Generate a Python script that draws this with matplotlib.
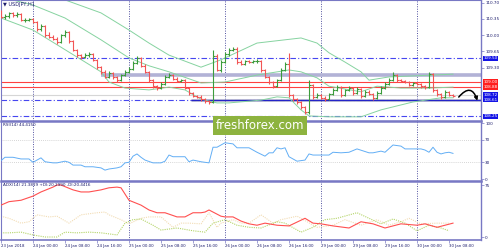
import matplotlib
matplotlib.use('Agg')
import matplotlib.pyplot as plt
from matplotlib.patches import Rectangle

# USDJPY H1 bars (23 Jan 16:00 .. 30 Jan 09:00)
first_open = 110.50
closes = [110.39, 110.41, 110.48, 110.43, 110.46, 110.33, 110.33, 110.35, 110.28, 110.13,
          110.20, 110.00, 109.96, 109.92, 109.85, 110.00, 110.07, 109.87, 109.68, 109.57,
          109.53, 109.57, 109.59, 109.47, 109.31, 109.21, 109.10, 109.19, 109.10, 109.03,
          109.14, 109.21, 109.27, 109.40, 109.51, 109.34, 109.21, 109.03, 108.90, 108.86,
          108.95, 109.10, 109.14, 109.06, 109.01, 109.03, 108.86, 108.75, 108.69, 108.67,
          108.62, 108.58, 108.56, 109.55, 109.25, 109.42, 109.59, 109.68, 109.70, 109.42,
          109.38, 109.44, 109.42, 109.44, 109.44, 109.25, 109.10, 108.99, 108.90, 109.03,
          109.25, 109.38, 108.71, 108.62, 108.56, 108.45, 108.34, 108.93, 108.67, 108.71,
          108.65, 108.62, 108.73, 108.82, 108.88, 108.71, 108.82, 108.86, 108.75, 108.84,
          108.69, 108.78, 108.73, 108.65, 108.75, 108.86, 108.95, 109.03, 109.14, 109.03,
          109.01, 108.99, 108.93, 108.97, 108.95, 108.90, 108.88, 109.16, 108.82, 108.73,
          108.67, 108.78, 108.71, 108.69]
highs = [110.54, 110.45, 110.51, 110.50, 110.49, 110.47, 110.36, 110.37, 110.36, 110.30,
         110.23, 110.21, 110.06, 110.00, 109.95, 110.03, 110.11, 110.09, 109.89, 109.71,
         109.60, 109.61, 109.63, 109.61, 109.49, 109.33, 109.24, 109.22, 109.21, 109.13,
         109.17, 109.24, 109.31, 109.44, 109.56, 109.53, 109.37, 109.23, 109.05, 108.93,
         108.98, 109.14, 109.19, 109.16, 109.09, 109.06, 109.05, 108.88, 108.78, 108.72,
         108.70, 108.65, 108.61, 109.68, 109.60, 109.47, 109.64, 109.72, 109.75, 109.74,
         109.47, 109.47, 109.47, 109.47, 109.48, 109.46, 109.27, 109.12, 109.01, 109.06,
         109.29, 109.42, 109.62, 108.74, 108.65, 108.58, 108.48, 109.03, 108.95, 108.75,
         108.74, 108.68, 108.76, 108.86, 108.92, 108.90, 108.85, 108.90, 108.89, 108.88,
         108.86, 108.82, 108.81, 108.76, 108.79, 108.90, 108.99, 109.08, 109.21, 109.16,
         109.06, 109.04, 109.01, 109.00, 108.99, 108.97, 108.93, 109.21, 109.18, 108.84,
         108.76, 108.81, 108.80, 108.74]
lows = [110.36, 110.35, 110.38, 110.40, 110.40, 110.30, 110.29, 110.31, 110.26, 110.10,
        110.08, 109.97, 109.93, 109.89, 109.82, 109.83, 109.97, 109.84, 109.65, 109.54,
        109.49, 109.50, 109.53, 109.44, 109.28, 109.17, 109.07, 109.07, 109.06, 108.99,
        109.01, 109.11, 109.18, 109.25, 109.37, 109.31, 109.18, 108.99, 108.86, 108.82,
        108.84, 108.93, 109.07, 109.03, 108.98, 108.98, 108.83, 108.71, 108.66, 108.64,
        108.59, 108.54, 108.52, 108.54, 109.22, 109.20, 109.40, 109.56, 109.66, 109.38,
        109.35, 109.36, 109.39, 109.40, 109.41, 109.21, 109.07, 108.95, 108.87, 108.88,
        109.01, 109.22, 108.66, 108.58, 108.51, 108.40, 108.30, 108.31, 108.63, 108.64,
        108.62, 108.59, 108.60, 108.71, 108.79, 108.66, 108.69, 108.80, 108.72, 108.73,
        108.64, 108.66, 108.70, 108.60, 108.62, 108.73, 108.84, 108.93, 109.01, 109.00,
        108.98, 108.96, 108.90, 108.91, 108.92, 108.87, 108.85, 108.86, 108.78, 108.69,
        108.63, 108.64, 108.68, 108.66]
opens = [first_open] + closes[:-1]

# Bollinger bands (bar index, price)
bb_up_bar = [10, 16, 25, 32, 37, 42, 50, 55, 64, 75, 79, 82, 86, 90, 92, 97, 108, 113]
bb_up = [110.95, 110.76, 110.48, 110.11, 109.83, 109.57, 109.31, 109.47, 109.83, 109.94,
         109.83, 109.62, 109.42, 109.21, 109.03, 109.10, 109.14, 109.16]
bb_mid_bar = [0, 8, 16, 25, 32, 37, 42, 50, 56, 64, 72, 75, 79, 82, 90, 94, 100, 107, 113]
bb_mid = [110.82, 110.65, 110.37, 109.90, 109.51, 109.34, 109.21, 108.97, 108.99, 109.14,
          109.25, 109.21, 109.08, 108.90, 108.78, 108.90, 108.86, 108.86, 108.88]
bb_lo_bar = [0, 8, 12, 25, 27, 31, 37, 42, 46, 50, 54, 57, 65, 69, 72, 75, 77, 82, 90, 95,
             103, 110, 113]
bb_lo = [110.37, 110.11, 109.90, 109.21, 108.99, 108.86, 108.82, 108.88, 108.82, 108.62,
         108.54, 108.54, 108.60, 108.67, 108.65, 108.39, 108.26, 108.24, 108.24, 108.39,
         108.56, 108.65, 108.65]

# RSI(14)
rsi_bar = [0, 1, 3, 5, 7, 8, 10, 11, 13, 14, 16, 17, 18, 20, 21, 23, 25, 26, 27, 29, 30, 31,
           32, 33, 34, 35, 36, 38, 40, 41, 42, 43, 45, 46, 47, 48, 50, 52, 53, 54, 55, 56, 58,
           59, 62, 64, 66, 67, 68, 69, 70, 71, 72, 74, 76, 77, 78, 82, 83, 85, 87, 89, 92, 93,
           95, 96, 98, 100, 101, 104, 105, 106, 107, 108, 109, 110, 111, 112, 113]
rsi = [33, 39, 39, 36, 36, 30, 38, 31, 29, 29, 32, 30, 25, 25, 22, 22, 20, 16, 18, 20, 22, 29,
       30, 41, 45, 39, 34, 29, 29, 32, 43, 40, 40, 40, 31, 34, 31, 29, 57, 57, 61, 65, 63,
       56, 56, 48, 41, 47, 47, 56, 54, 56, 40, 32, 34, 45, 43, 43, 48, 47, 48, 54, 47, 47,
       50, 48, 61, 59, 54, 54, 54, 52, 48, 57, 48, 45, 47, 48, 46]

# ADX(14), +DI, -DI
adx_bar = [0, 2, 5, 8, 10, 13, 14, 15, 18, 20, 22, 25, 27, 29, 30, 32, 35, 37, 39, 41, 44, 46,
           48, 50, 51, 52, 55, 56, 58, 60, 62, 64, 66, 69, 72, 76, 78, 80, 83, 87, 90, 93, 96,
           100, 104, 106, 109, 113]
adx = [46, 51, 53, 59, 65, 72, 75, 75, 68, 65, 65, 68, 71, 72, 71, 53, 46, 39, 35, 35, 29, 29,
       35, 35, 36, 39, 30, 29, 29, 23, 19, 17, 20, 17, 16, 27, 20, 19, 16, 13, 22, 19, 13,
       19, 17, 19, 14, 20]
pdi_bar = [0, 2, 5, 8, 11, 14, 16, 19, 22, 25, 29, 31, 33, 35, 38, 40, 44, 48, 51, 53, 56, 59,
           62, 65, 69, 71, 75, 78, 81, 84, 89, 92, 95, 98, 101, 104, 107, 110, 112]
pdi = [6, 6, 7, 3, 0, 0, 7, 6, 7, 6, 3, 20, 25, 26, 17, 10, 13, 9, 7, 20, 25, 17, 14, 13, 22,
       20, 7, 14, 25, 27, 35, 27, 19, 26, 20, 9, 17, 13, 9]
mdi_bar = [0, 2, 5, 7, 9, 12, 14, 17, 20, 24, 26, 27, 30, 32, 35, 37, 40, 43, 45, 47, 50, 51,
           52, 54, 55, 58, 60, 62, 65, 68, 70, 74, 75, 79, 83, 86, 90, 94, 97, 100, 102, 105,
           109, 112]
mdi = [30, 27, 20, 22, 32, 29, 30, 20, 32, 35, 36, 32, 25, 19, 27, 29, 29, 14, 20, 20, 19, 27,
       35, 14, 20, 25, 20, 20, 32, 20, 25, 30, 27, 14, 17, 25, 17, 25, 17, 22, 27, 19, 20, 20]

time_ticks = [0, 8, 16, 24, 32, 40, 48, 56, 64, 72, 80, 88, 96, 104, 112]
time_labels = ['23 Jan 2018', '24 Jan 00:00', '24 Jan 08:00', '24 Jan 16:00', '25 Jan 00:00',
               '25 Jan 08:00', '25 Jan 16:00', '26 Jan 00:00', '26 Jan 08:00', '26 Jan 16:00',
               '29 Jan 00:00', '29 Jan 08:00', '29 Jan 16:00', '30 Jan 00:00', '30 Jan 08:00']
day_breaks = [8, 32, 56, 80, 104]
price_ticks = [109.30, 109.65, 110.00, 110.35, 110.70]

# levels drawn on the chart
dash_levels = [109.50, 108.61, 108.25]
red_levels = [109.00, 108.88]
grey_level = 108.72
zone_level = 109.14
support_level = 108.61
level_tags = [(109.50, '#1414e6'), (109.00, '#ff1e1e'), (108.88, '#ff1e1e'),
              (108.72, '#1414e6'), (108.61, '#1414e6'), (108.25, '#1414e6')]

frame = '#7878c4'
txt = '#1c1c6c'
fs = 3.0

fig = plt.figure(figsize=(5, 2.5), dpi=100)
ax = fig.add_axes([0.002, 0.516, 0.96, 0.484])
ax_rsi = fig.add_axes([0.002, 0.276, 0.96, 0.24], sharex=ax)
ax_adx = fig.add_axes([0.002, 0.042, 0.96, 0.234], sharex=ax)

for a in (ax, ax_rsi, ax_adx):
    a.set_facecolor('white')
    for s in a.spines.values():
        s.set_color(frame)
        s.set_linewidth(0.8)
    a.spines['top'].set_linewidth(1.8)
    a.spines['right'].set_linewidth(1.0)
    a.yaxis.tick_right()
    a.tick_params(axis='y', direction='out', length=2, width=0.5, color=frame,
                  labelsize=fs, labelcolor=txt, pad=1)
    for d in day_breaks:
        a.axvline(d, color='#5050a0', lw=0.7, ls=(0, (1, 1.5)), zorder=1)
ax.spines['top'].set_linewidth(0.8)
ax_adx.spines['bottom'].set_linewidth(1.2)

# main price panel
ax.set_xlim(0, 120)
ax.set_ylim(108.15, 110.758)
ax.set_yticks(price_ticks)
ax.set_yticklabels(['%.2f' % v for v in price_ticks])
ax.tick_params(axis='x', bottom=False, labelbottom=False)
ax_rsi.tick_params(axis='x', bottom=False, labelbottom=False)

ax.plot(bb_up_bar, bb_up, color='#86d3a0', lw=0.7, zorder=2)
ax.plot(bb_mid_bar, bb_mid, color='#86d3a0', lw=0.7, zorder=2)
ax.plot(bb_lo_bar, bb_lo, color='#86d3a0', lw=0.7, zorder=2)

ax.axhline(grey_level, color='#d6d6d6', lw=0.8, zorder=1)
ax.hlines(zone_level, 25, 120, color='#b2b2d6', lw=2.6, zorder=1.5)
for lv in red_levels:
    ax.axhline(lv, color='#ff4040', lw=0.8, zorder=1.6)
for lv in dash_levels:
    ax.axhline(lv, color='#4646f0', lw=0.8, ls=(0, (5, 2, 1, 2)), zorder=1.6)
ax.hlines(support_level - 0.012, 47.5, 120, color='#c0c0c0', lw=2.2, alpha=0.6, zorder=1.7)
ax.hlines(support_level, 47.5, 120, color='#2424c8', lw=1.0, zorder=1.8)

bars = list(range(len(closes)))
cols = ['#3c9c3c' if c >= o else '#f25555' for o, c in zip(opens, closes)]
ax.vlines(bars, lows, highs, colors=cols, lw=0.8, zorder=3)
ax.hlines(opens, [b - 0.4 for b in bars], bars, colors=cols, lw=0.8, zorder=3)
ax.hlines(closes, bars, [b + 0.4 for b in bars], colors=cols, lw=0.8, zorder=3)

ax.annotate('', xy=(119.3, 108.53), xytext=(114, 108.62),
            arrowprops=dict(arrowstyle='-|>', color='black', lw=1.1,
                            mutation_scale=5, connectionstyle='arc3,rad=-1.0'),
            annotation_clip=False, zorder=5)

for lv, c in level_tags:
    ax.text(1.005, lv, '%.2f' % lv, transform=ax.get_yaxis_transform(), fontsize=fs,
            color='white', ha='left', va='center', clip_on=False, zorder=6,
            bbox=dict(boxstyle='square,pad=0.2', fc=c, ec='none'))

ax.text(0.004, 0.985, '\u25bc USDJPY,H1', transform=ax.transAxes, fontsize=fs + 0.6,
        color=txt, ha='left', va='top')

# RSI panel
ax_rsi.plot(rsi_bar, rsi, color='#62aef5', lw=0.7, zorder=3)
for lv in (70, 30):
    ax_rsi.axhline(lv, color='#c8c8c8', lw=0.6, ls=(0, (1, 1.5)), zorder=1)
ax_rsi.set_ylim(-3.5, 104)
ax_rsi.set_yticks([0, 30, 70, 100])
ax_rsi.text(0.004, 0.96, 'RSI(14) 44.4150', transform=ax_rsi.transAxes, fontsize=fs,
            color=txt, ha='left', va='top')

# ADX panel
ax_adx.plot(mdi_bar, mdi, color='#f2dcb4', lw=0.8, ls=(0, (1, 1)), zorder=2)
ax_adx.plot(pdi_bar, pdi, color='#b4d468', lw=0.8, ls=(0, (1, 1)), zorder=2)
ax_adx.plot(adx_bar, adx, color='#ff5050', lw=0.8, zorder=3)
ax_adx.set_ylim(-3.6, 80.8)
ax_adx.set_yticks([0, 75])
ax_adx.text(0.004, 0.97, 'ADX(14) 21.3819 +DI:20.2990 -DI:20.4416', transform=ax_adx.transAxes,
            fontsize=fs, color=txt, ha='left', va='top')
ax_adx.set_xticks(time_ticks)
ax_adx.set_xticklabels(time_labels)
ax_adx.tick_params(axis='x', direction='out', length=2, width=0.5, color=frame,
                   labelsize=2.8, labelcolor=txt, pad=1)
for lbl in ax_adx.get_xticklabels():
    lbl.set_ha('left')

# watermark
fig.add_artist(Rectangle((0.426, 0.46), 0.188, 0.076, transform=fig.transFigure,
                         fc='#8db33f', ec='none', zorder=10))
fig.text(0.52, 0.497, 'freshforex.com', color='white', fontsize=8.5, ha='center',
         va='center', zorder=11)

fig.savefig('out.png', dpi=100)
